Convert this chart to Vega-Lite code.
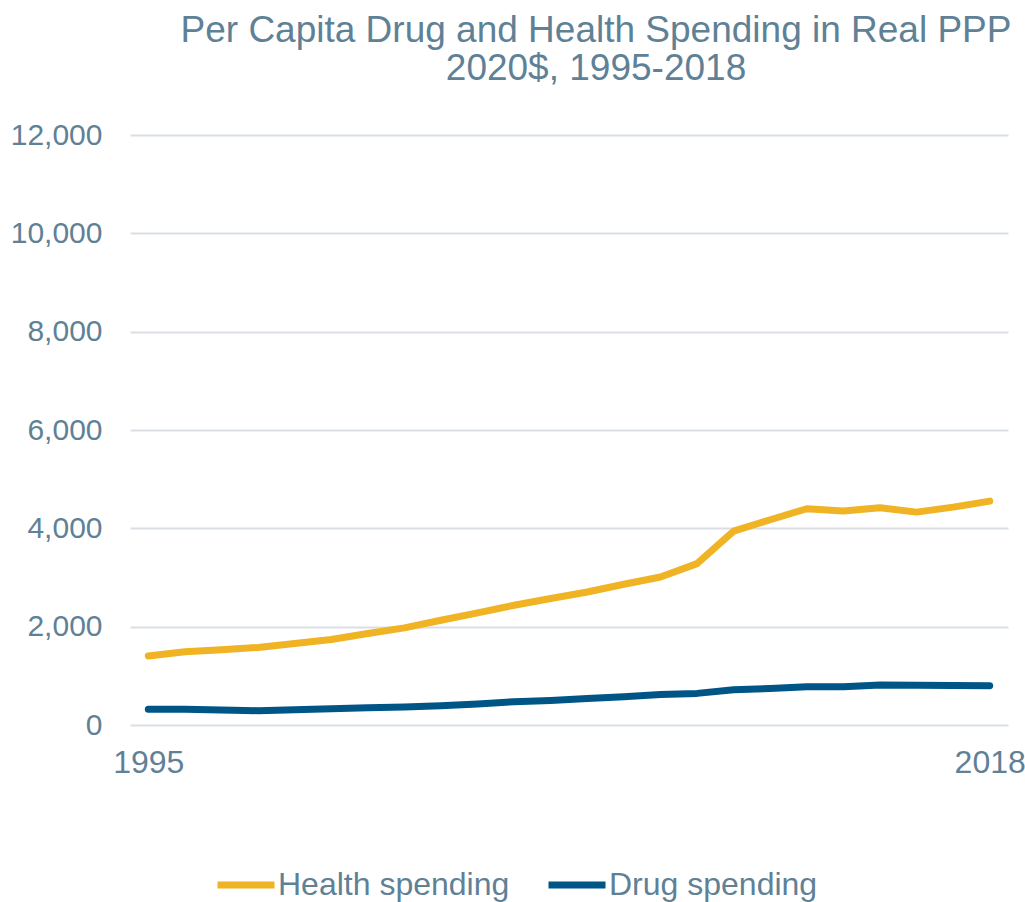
{
  "$schema": "https://vega.github.io/schema/vega-lite/v6.json",
  "autosize": {"type": "none"},
  "width": 878,
  "height": 590,
  "padding": {"left": 130, "top": 135, "right": 17, "bottom": 177},
  "background": "white",
  "config": {
    "font": "Liberation Sans",
    "view": {"stroke": null}
  },
  "title": {
    "text": ["Per Capita Drug and Health Spending in Real PPP", "2020$, 1995-2018"],
    "anchor": "middle",
    "frame": "group",
    "dx": 27,
    "fontSize": 37,
    "fontWeight": "normal",
    "color": "#5F8196",
    "lineHeight": 38,
    "offset": 32
  },
  "data": {
    "values": [
      {"year": 1995, "series": "Health spending", "value": 1405},
      {"year": 1996, "series": "Health spending", "value": 1488},
      {"year": 1997, "series": "Health spending", "value": 1530},
      {"year": 1998, "series": "Health spending", "value": 1577},
      {"year": 1999, "series": "Health spending", "value": 1658},
      {"year": 2000, "series": "Health spending", "value": 1740},
      {"year": 2001, "series": "Health spending", "value": 1861},
      {"year": 2002, "series": "Health spending", "value": 1975},
      {"year": 2003, "series": "Health spending", "value": 2131},
      {"year": 2004, "series": "Health spending", "value": 2280},
      {"year": 2005, "series": "Health spending", "value": 2436},
      {"year": 2006, "series": "Health spending", "value": 2572},
      {"year": 2007, "series": "Health spending", "value": 2706},
      {"year": 2008, "series": "Health spending", "value": 2862},
      {"year": 2009, "series": "Health spending", "value": 3011},
      {"year": 2010, "series": "Health spending", "value": 3282},
      {"year": 2011, "series": "Health spending", "value": 3944},
      {"year": 2012, "series": "Health spending", "value": 4175},
      {"year": 2013, "series": "Health spending", "value": 4398},
      {"year": 2014, "series": "Health spending", "value": 4351},
      {"year": 2015, "series": "Health spending", "value": 4420},
      {"year": 2016, "series": "Health spending", "value": 4330},
      {"year": 2017, "series": "Health spending", "value": 4431},
      {"year": 2018, "series": "Health spending", "value": 4553},
      {"year": 1995, "series": "Drug spending", "value": 318},
      {"year": 1996, "series": "Drug spending", "value": 318},
      {"year": 1997, "series": "Drug spending", "value": 304},
      {"year": 1998, "series": "Drug spending", "value": 291},
      {"year": 1999, "series": "Drug spending", "value": 310},
      {"year": 2000, "series": "Drug spending", "value": 330},
      {"year": 2001, "series": "Drug spending", "value": 350},
      {"year": 2002, "series": "Drug spending", "value": 367},
      {"year": 2003, "series": "Drug spending", "value": 390},
      {"year": 2004, "series": "Drug spending", "value": 426},
      {"year": 2005, "series": "Drug spending", "value": 475},
      {"year": 2006, "series": "Drug spending", "value": 500},
      {"year": 2007, "series": "Drug spending", "value": 541},
      {"year": 2008, "series": "Drug spending", "value": 575},
      {"year": 2009, "series": "Drug spending", "value": 620},
      {"year": 2010, "series": "Drug spending", "value": 643},
      {"year": 2011, "series": "Drug spending", "value": 715},
      {"year": 2012, "series": "Drug spending", "value": 744},
      {"year": 2013, "series": "Drug spending", "value": 778},
      {"year": 2014, "series": "Drug spending", "value": 778},
      {"year": 2015, "series": "Drug spending", "value": 815},
      {"year": 2016, "series": "Drug spending", "value": 810},
      {"year": 2017, "series": "Drug spending", "value": 805},
      {"year": 2018, "series": "Drug spending", "value": 798}
    ]
  },
  "mark": {"type": "line", "strokeWidth": 7, "strokeCap": "round", "strokeJoin": "round"},
  "encoding": {
    "x": {
      "field": "year",
      "type": "quantitative",
      "scale": {"domain": [1994.5, 2018.5], "nice": false, "zero": false},
      "axis": {
        "values": [1995, 2018],
        "format": "d",
        "title": null,
        "grid": false,
        "domain": false,
        "ticks": false,
        "labelFontSize": 32,
        "labelColor": "#5F8196",
        "labelPadding": 22,
        "labelFlush": false
      }
    },
    "y": {
      "field": "value",
      "type": "quantitative",
      "scale": {"domain": [0, 12000], "nice": false},
      "axis": {
        "values": [0, 2000, 4000, 6000, 8000, 10000, 12000],
        "format": ",d",
        "title": null,
        "domain": false,
        "ticks": false,
        "gridColor": "#D9DFE4",
        "gridWidth": 2,
        "labelFontSize": 30,
        "labelColor": "#5F8196",
        "labelPadding": 28
      }
    },
    "color": {
      "field": "series",
      "type": "nominal",
      "scale": {"domain": ["Health spending", "Drug spending"], "range": ["#F0B323", "#005587"]},
      "legend": {
        "title": null,
        "orient": "none",
        "direction": "horizontal",
        "legendX": 84,
        "legendY": 718,
        "symbolType": "stroke",
        "symbolSize": 3249,
        "symbolStrokeWidth": 7,
        "labelFontSize": 32,
        "labelColor": "#5F8196",
        "labelOffset": 0,
        "columnPadding": 24,
        "labelLimit": 400
      }
    }
  }
}
